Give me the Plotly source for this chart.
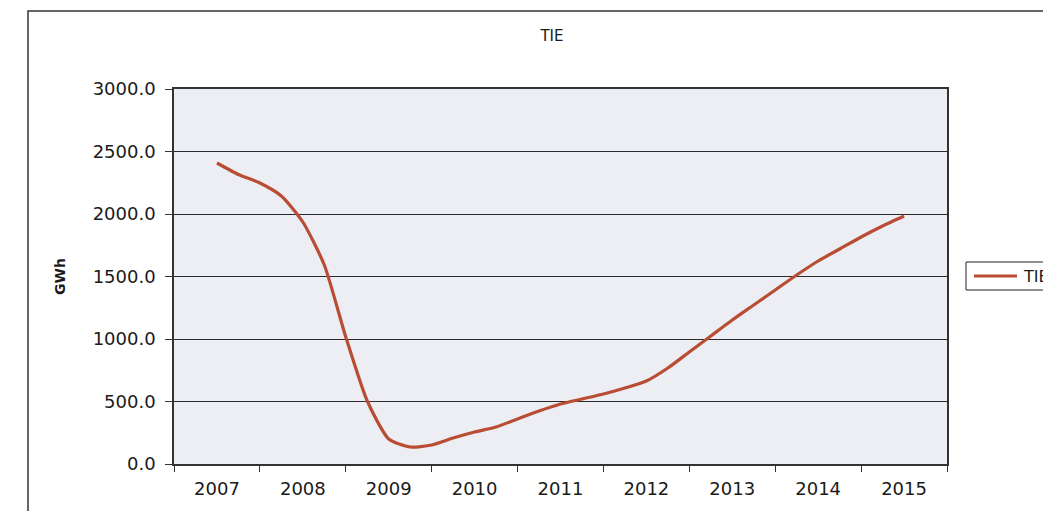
"""TIE energy curve (GWh), 2007-2015, Excel-style line chart."""
import plotly.graph_objects as go

YEARS = [2007, 2008, 2009, 2010, 2011, 2012, 2013, 2014, 2015]

# quarterly points
PERIODS = [
    2007.00, 2007.25, 2007.50, 2007.75,
    2008.00, 2008.25, 2008.50, 2008.75,
    2009.00, 2009.25, 2009.50, 2009.75,
    2010.00, 2010.25, 2010.50, 2010.75,
    2011.00, 2011.25, 2011.50, 2011.75,
    2012.00, 2012.25, 2012.50, 2012.75,
    2013.00, 2013.25, 2013.50, 2013.75,
    2014.00, 2014.25, 2014.50, 2014.75,
    2015.00,
]
TIE_GWH = [
    2408, 2316, 2248, 2144,
    1936, 1592, 1016, 504,
    200, 136, 152, 208,
    256, 296, 360, 424,
    480, 520, 560, 608,
    664, 768, 896, 1024,
    1152, 1272, 1392, 1512,
    1624, 1720, 1816, 1904,
    1984,
]
Y_TICKS = [0, 500, 1000, 1500, 2000, 2500, 3000]

LINE_COLOR = "#b84d34"
PLOT_BG = "#eceef4"
INK = "#1a1a1a"
FONT = "DejaVu Sans, Arial, sans-serif"

# the page body adds an 8px offset: shrink the figure so it fits the window
BODY = 8
FIG_W, FIG_H = 1051 - BODY, 511 - BODY
PLOT_LEFT, PLOT_TOP = 174, 89
PLOT_W, PLOT_H = 773, 375


def px(sx):
    """Screen x (px) -> paper x."""
    return (sx - PLOT_LEFT) / PLOT_W


def py(sy):
    """Screen y (px) -> paper y."""
    return (PLOT_TOP + PLOT_H - sy) / PLOT_H


fig = go.Figure()
fig.add_trace(go.Scatter(
    x=PERIODS,
    y=TIE_GWH,
    mode="lines",
    name="TIE",
    line=dict(color=LINE_COLOR, width=3.2, shape="spline", smoothing=0.6),
    showlegend=False,
))

fig.update_layout(
    width=FIG_W,
    height=FIG_H,
    margin=dict(l=PLOT_LEFT - BODY, r=FIG_W - (PLOT_LEFT - BODY) - PLOT_W,
                t=PLOT_TOP - BODY, b=FIG_H - (PLOT_TOP - BODY) - PLOT_H),
    paper_bgcolor="white",
    plot_bgcolor=PLOT_BG,
    font=dict(family=FONT, color=INK),
    title=dict(
        text="TIE",
        x=px(552), xref="paper", xanchor="center",
        y=1 - (36 - BODY) / FIG_H, yref="container", yanchor="middle",
        font=dict(size=15, color=INK),
    ),
    showlegend=False,
    xaxis=dict(
        range=[2006.5, 2015.5],
        tickvals=YEARS,
        ticktext=[str(y) for y in YEARS],
        ticks="",
        ticklabelstandoff=8,
        showgrid=False,
        zeroline=False,
        showline=True, linecolor="#333", linewidth=1.5, mirror=True,
        tickfont=dict(size=18, color=INK),
        minor=dict(tick0=2006.5, dtick=1, ticks="outside", ticklen=6,
                   tickcolor="#333", showgrid=False),
        fixedrange=True,
    ),
    yaxis=dict(
        range=[0, 3000],
        tickvals=Y_TICKS,
        ticktext=[f"{v:.1f}" for v in Y_TICKS],
        ticks="outside", ticklen=7, tickcolor="#333",
        ticklabelstandoff=6,
        showgrid=True, gridcolor="#2a2a2a", gridwidth=1,
        zeroline=False,
        showline=True, linecolor="#333", linewidth=1.5, mirror=True,
        tickfont=dict(size=18, color=INK),
        fixedrange=True,
    ),
    annotations=[
        dict(text="<b>GWh</b>", xref="paper", yref="paper",
             x=px(60), y=py(277),
             xanchor="center", yanchor="middle", textangle=-90,
             showarrow=False, font=dict(size=14, color=INK)),
        # legend label (legend box runs off the right edge, as in the original)
        dict(text="TIE", xref="paper", yref="paper",
             x=px(1021), y=py(276), xanchor="left", yanchor="middle",
             showarrow=False, font=dict(size=16, color=INK)),
    ],
    shapes=[
        # outer chart frame, running off the page on the right and bottom
        dict(type="rect", xref="paper", yref="paper",
             x0=px(28), x1=1.2, y0=-0.3, y1=py(11),
             line=dict(color="#333", width=1.5), fillcolor="rgba(0,0,0,0)",
             layer="below"),
        # legend box and sample line
        dict(type="rect", xref="paper", yref="paper",
             x0=px(966), x1=px(1070), y0=py(290), y1=py(262),
             line=dict(color="#222", width=1), fillcolor="white"),
        dict(type="line", xref="paper", yref="paper",
             x0=px(974), x1=px(1017), y0=py(276), y1=py(276),
             line=dict(color=LINE_COLOR, width=3.2)),
    ],
)

fig.write_html("out.html")
